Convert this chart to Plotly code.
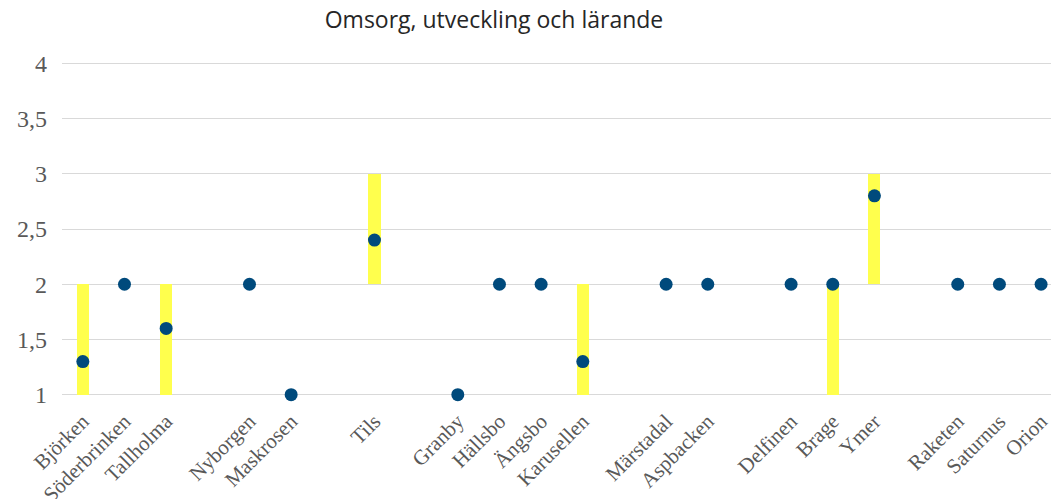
import plotly.graph_objects as go

# Categories ("" marks an empty slot on the axis)
categories = ["Björken", "Söderbrinken", "Tallholma", "", "Nyborgen", "Maskrosen", "",
              "Tils", "", "Granby", "Hällsbo", "Ängsbo", "Karusellen", "",
              "Märstadal", "Aspbacken", "", "Delfinen", "Brage", "Ymer", "",
              "Raketen", "Saturnus", "Orion"]
mean_vals = [1.3, 2, 1.6, None, 2, 1, None,
             2.4, None, 1, 2, 2, 1.3, None,
             2, 2, None, 2, 2, 2.8, None,
             2, 2, 2]
low_vals = [1, 2, 1, None, 2, 1, None,
            2, None, 1, 2, 2, 1, None,
            2, 2, None, 2, 1, 2, None,
            2, 2, 2]
high_vals = [2, 2, 2, None, 2, 1, None,
             3, None, 1, 2, 2, 2, None,
             2, 2, None, 2, 2, 3, None,
             2, 2, 2]
y_ticks = [1, 1.5, 2, 2.5, 3, 3.5, 4]
y_tick_labels = ["1", "1,5", "2", "2,5", "3", "3,5", "4"]

idx = list(range(len(categories)))
bar_x, bar_base, bar_len = [], [], []
for i, lo, hi in zip(idx, low_vals, high_vals):
    if lo is not None and hi is not None and hi > lo:
        bar_x.append(i)
        bar_base.append(lo)
        bar_len.append(hi - lo)

pt_x = [i for i, v in zip(idx, mean_vals) if v is not None]
pt_y = [v for v in mean_vals if v is not None]

tick_x = [i for i, c in zip(idx, categories) if c]
tick_t = [c for c in categories if c]

fig = go.Figure()
fig.add_trace(go.Bar(x=bar_x, y=bar_len, base=bar_base, width=0.29,
                     marker=dict(color="#FFFF4D", line=dict(width=0)),
                     showlegend=False, hoverinfo="skip"))
fig.add_trace(go.Scatter(x=pt_x, y=pt_y, mode="markers",
                         marker=dict(color="#004A7C", size=13),
                         cliponaxis=False, showlegend=False))

# page body has an 8px margin, so the figure is sized to fit the window
W, H = 1051, 491
fig.update_layout(
    width=W, height=H,
    margin=dict(l=54, r=0, t=52, b=101, autoexpand=False),
    paper_bgcolor="white", plot_bgcolor="white",
    title=dict(text="Omsorg, utveckling och lärande", x=486/W, xref="container",
               xanchor="center", y=1 - 12/H, yref="container", yanchor="middle",
               font=dict(family="Open Sans", size=23, color="#262626")),
    xaxis=dict(range=[-0.5, 23.43], tickmode="array", tickvals=tick_x, ticktext=tick_t,
               tickangle=-45, showgrid=False, zeroline=False, showline=False,
               ticks="", ticklen=0, automargin=False, ticklabelstandoff=6,
               tickfont=dict(family="Liberation Serif", size=21, color="#595959")),
    yaxis=dict(range=[0.97, 4.03], tickmode="array", tickvals=y_ticks, ticktext=y_tick_labels,
               showgrid=True, gridcolor="#D9D9D9", gridwidth=1, zeroline=False,
               showline=False, ticks="", ticklabelstandoff=14, automargin=False,
               tickfont=dict(family="Liberation Serif", size=24, color="#595959")),
    bargap=0,
)

fig.write_html("out.html")
